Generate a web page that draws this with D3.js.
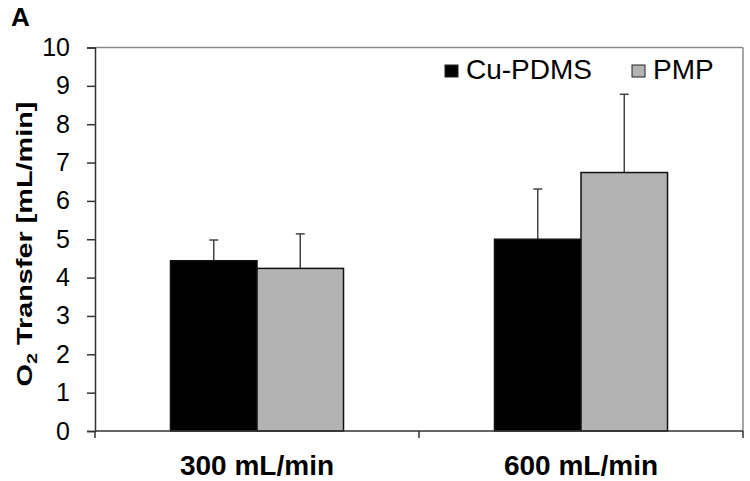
<!DOCTYPE html>
<html><head><meta charset="utf-8">
<script src="https://cdn.jsdelivr.net/npm/d3@7"></script>
<style>body{margin:0;background:#fff}svg{display:block}text{font-family:"Liberation Sans",Arial,sans-serif}</style>
</head><body>
<svg id="c" width="750" height="481"></svg>
<script>
const categories = ["300 mL/min", "600 mL/min"];
const seriesNames = ["Cu-PDMS", "PMP"];
const cuPdmsMean = [4.44, 5.0];
const cuPdmsErr = [0.54, 1.31];
const pmpMean = [4.24, 6.74];
const pmpErr = [0.9, 2.04];
const yTicks = [0,1,2,3,4,5,6,7,8,9,10];
const colors = ["#000000", "#b3b3b3"];

const svg = d3.select("#c");
const L = 95, R = 743, T = 47.5, B = 431;
const x = d3.scaleBand().domain(categories).range([L, R]).paddingInner(0.466).paddingOuter(0.233);
const xs = d3.scaleBand().domain(seriesNames).range([0, x.bandwidth()]);
const y = d3.scaleLinear().domain([0, 10]).range([B, T]);

// frame top & right
svg.append("line").attr("x1", L).attr("x2", R).attr("y1", T).attr("y2", T).attr("stroke", "#8a8a8a").attr("stroke-width", 1.5);
svg.append("line").attr("x1", R).attr("x2", R).attr("y1", T).attr("y2", B).attr("stroke", "#8a8a8a").attr("stroke-width", 1.5);

const data = [];
categories.forEach((c, i) => {
  data.push({cat: c, s: seriesNames[0], v: cuPdmsMean[i], e: cuPdmsErr[i], col: colors[0]});
  data.push({cat: c, s: seriesNames[1], v: pmpMean[i], e: pmpErr[i], col: colors[1]});
});

// error bars (behind bars)
const eb = svg.append("g").attr("stroke", "#444").attr("stroke-width", 1.5);
data.forEach(d => {
  const cx = x(d.cat) + xs(d.s) + xs.bandwidth() / 2;
  eb.append("line").attr("x1", cx).attr("x2", cx).attr("y1", y(d.v)).attr("y2", y(d.v + d.e));
  eb.append("line").attr("x1", cx - 4.5).attr("x2", cx + 4.5).attr("y1", y(d.v + d.e)).attr("y2", y(d.v + d.e));
});

svg.append("g").selectAll("rect").data(data).join("rect")
  .attr("x", d => x(d.cat) + xs(d.s))
  .attr("y", d => y(d.v))
  .attr("width", xs.bandwidth())
  .attr("height", d => B - y(d.v))
  .attr("fill", d => d.col)
  .attr("stroke", "#111").attr("stroke-width", 1.5);

// y axis
const ya = svg.append("g").attr("transform", `translate(${L},0)`)
  .call(d3.axisLeft(y).tickValues(yTicks).tickSize(8).tickPadding(17).tickFormat(d3.format("d")));
ya.select(".domain").attr("stroke", "#333").attr("stroke-width", 1.5);
ya.selectAll(".tick line").attr("stroke", "#333").attr("stroke-width", 1.5);
ya.selectAll("text").attr("font-size", 25).attr("fill", "#000").attr("font-family", "Liberation Sans, Arial, sans-serif");

// x axis
const xa = svg.append("g").attr("transform", `translate(0,${B})`);
xa.append("line").attr("x1", L).attr("x2", R).attr("stroke", "#333").attr("stroke-width", 1.5);
const xTickPos = [L, (x(categories[0]) + x.bandwidth() + x(categories[1])) / 2, R];
xa.selectAll(".xt").data(xTickPos).join("line").attr("class", "xt")
  .attr("x1", d => d).attr("x2", d => d).attr("y1", 0).attr("y2", 7)
  .attr("stroke", "#333").attr("stroke-width", 1.5);
xa.selectAll(".xl").data(categories).join("text").attr("class", "xl")
  .attr("x", d => x(d) + x.bandwidth() / 2).attr("y", 44)
  .attr("text-anchor", "middle").attr("font-size", 28).attr("font-weight", "bold").text(d => d);

// y label
const yl = svg.append("text").attr("font-size", 22).attr("font-weight", "bold").attr("text-anchor", "middle");
yl.append("tspan").text("O");
yl.append("tspan").attr("font-size", 15).attr("dy", 5).text("2");
yl.append("tspan").attr("dy", -5).text(" Transfer [mL/min]");
const natural = yl.node().getComputedTextLength();
const sx = 285 / natural;
yl.attr("transform", `translate(32,244) rotate(-90) scale(${sx},1)`);

// legend
const lg = svg.append("g");
const legendItems = [
  {name: seriesNames[0], col: colors[0], sx: 445, tx: 466},
  {name: seriesNames[1], col: colors[1], sx: 632, tx: 653}
];
legendItems.forEach(it => {
  lg.append("rect").attr("x", it.sx).attr("y", 65).attr("width", 13).attr("height", 12)
    .attr("fill", it.col).attr("stroke", "#222").attr("stroke-width", 1);
  lg.append("text").attr("x", it.tx).attr("y", 79).attr("font-size", 28).text(it.name);
});

// panel letter
svg.append("text").attr("x", 11).attr("y", 26).attr("font-size", 26).attr("font-weight", "bold").text("A");
</script>
</body></html>
